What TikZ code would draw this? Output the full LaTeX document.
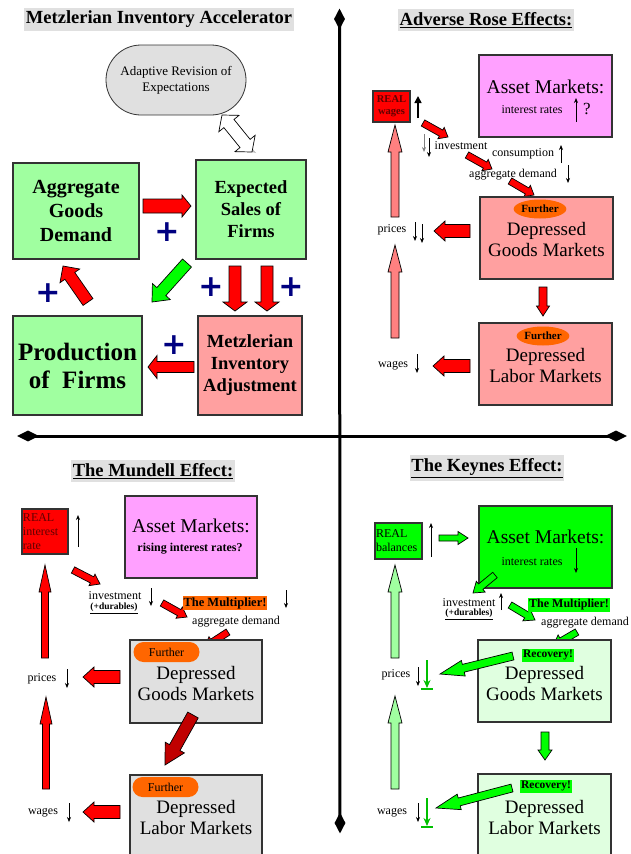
\documentclass[tikz,border=0pt]{standalone}
\usepackage{fontspec}
\setmainfont{Liberation Serif}
\newfontfamily\plusfont{DejaVu Sans}
\usetikzlibrary{calc,arrows.meta,shapes.geometric,shapes.misc}
\definecolor{lgray}{HTML}{E0E0E0}
\definecolor{lgreen}{HTML}{A0FFA0}
\definecolor{pinkc}{HTML}{FFA0A0}
\definecolor{magc}{HTML}{FFA0FF}
\definecolor{redc}{HTML}{FF0000}
\definecolor{orangec}{HTML}{FF6600}
\definecolor{salmonc}{HTML}{FF8080}
\definecolor{dkredc}{HTML}{C00000}
\definecolor{brgreen}{HTML}{00FF00}
\definecolor{palegreen}{HTML}{E0FFE0}
\definecolor{navyc}{HTML}{000080}
\definecolor{midgreen}{HTML}{00C000}
\definecolor{txtred}{HTML}{600000}
\newcommand\blk[6]{%
  \path ($#3!#6!#2$) coordinate (blkH);
  \draw[#1] ($#2!#4!90:#3$) -- ($(blkH)!#4!90:#3$) -- ($(blkH)!#5!90:#3$) -- #3 -- ($(blkH)!#5!-90:#3$) -- ($(blkH)!#4!-90:#3$) -- ($#2!#4!-90:#3$) -- cycle;}
\newcommand\dblk[6]{%
  \path ($#2!#6!#3$) coordinate (blkA) ($#3!#6!#2$) coordinate (blkB);
  \draw[#1] #2 -- ($(blkA)!#5!90:#3$) -- ($(blkA)!#4!90:#3$) -- ($(blkB)!#4!90:#3$) -- ($(blkB)!#5!90:#3$) -- #3 -- ($(blkB)!#5!-90:#3$) -- ($(blkB)!#4!-90:#3$) -- ($(blkA)!#4!-90:#3$) -- ($(blkA)!#5!-90:#3$) -- cycle;}
\begin{document}
\begin{tikzpicture}[x=1pt,y=-1pt,
  box/.style={draw=black!80, line width=1.1pt, inner sep=0pt},
  ttl/.style={fill=lgray, inner xsep=1.5pt, inner ysep=3pt, font=\fontsize{18.5}{20}\selectfont\bfseries},
  sm/.style={inner sep=0pt, font=\fontsize{12}{14}\selectfont},
  bigtxt/.style={inner sep=0pt, align=center, font=\fontsize{19}{21}\selectfont},
  assettxt/.style={inner sep=0pt, font=\fontsize{19.5}{22}\selectfont},
  plussign/.style={inner sep=0pt, text=navyc, font=\plusfont\bfseries\fontsize{30}{30}\selectfont},
  redA/.style={fill=redc, draw=black, line width=0.7pt},
  dredA/.style={fill=dkredc, draw=black, line width=0.7pt},
  salA/.style={fill=salmonc, draw=black, line width=0.7pt},
  grA/.style={fill=brgreen, draw=black, line width=0.7pt},
  lgA/.style={fill=lgreen, draw=black, line width=0.7pt},
  sarr/.style={line width=0.7pt, -{Stealth[length=5pt,width=4pt]}},
  garr/.style={line width=1.4pt, draw=midgreen, -{Stealth[length=8pt,width=7pt]}},
  axis/.style={line width=3pt},
  dmd/.style={diamond, fill=black, inner sep=0pt},
  furtherb/.style={ellipse, fill=orangec, inner sep=0pt, minimum width=46pt, minimum height=19pt, font=\fontsize{11}{12}\selectfont\bfseries},
  furtherr/.style={rounded rectangle, fill=orangec, inner sep=0pt, minimum width=66pt, minimum height=20pt, font=\fontsize{12}{13}\selectfont},
]
\useasboundingbox (0,0) rectangle (630,854);
\fill[white] (0,0) rectangle (630,854);

% ---------- axes ----------
\node[dmd, minimum width=11pt, minimum height=21pt] (dtop) at (339.5,19) {};
\node[dmd, minimum width=11pt, minimum height=21pt] (dbot) at (340,823) {};
\node[dmd, minimum width=22pt, minimum height=11pt] (dleft) at (28,436) {};
\node[dmd, minimum width=22pt, minimum height=11pt] (dright) at (616,436) {};
\draw[axis] (dtop.center) -- (dbot.center);
\draw[axis] (dleft.center) -- (dright.center);

% ---------- Q1 ----------
\node[ttl] (t1) at (159,19.5) {Metzlerian Inventory Accelerator};
\node[draw=black!80, line width=0.8pt, fill=lgray, rounded corners=35pt, minimum width=140pt, minimum height=70pt, align=center, font=\fontsize{13}{16}\selectfont] (adapt) at (176,80) {Adaptive Revision of\\Expectations};
\node[box, fill=lgreen, minimum width=126pt, minimum height=96pt, align=center, font=\fontsize{20}{24}\selectfont\bfseries] (agd) at (76,211) {Aggregate\\Goods\\Demand};
\node[box, fill=lgreen, minimum width=110pt, minimum height=99pt, align=center, font=\fontsize{18.5}{22}\selectfont\bfseries] (exps) at (251,209.5) {Expected\\Sales of\\Firms};
\node[box, fill=lgreen, minimum width=129pt, minimum height=99pt, align=center, font=\fontsize{25}{28}\selectfont\bfseries] (prod) at (77.5,365.5) {Production\\of~ Firms};
\node[box, fill=pinkc, minimum width=104pt, minimum height=99pt, align=center, font=\fontsize{18.5}{22}\selectfont\bfseries] (metz) at (250,365.5) {Metzlerian\\Inventory\\Adjustment};

\coordinate (h1a) at (222,115); \coordinate (h1b) at (252,152);
\fill[gray!55] ($(h1a)+(4,1)$) -- ($(h1b)+(4,1)$) -- (h1b) -- (h1a) -- cycle;
\dblk{fill=white, draw=black, line width=0.7pt}{(h1a)}{(h1b)}{6.5pt}{13pt}{11pt}

\coordinate (a1s) at (143,206); \coordinate (a1e) at (191,206);
\blk{redA}{(a1s)}{(a1e)}{7pt}{11pt}{9pt}
\coordinate (a2s) at (187,263); \coordinate (a2e) at (152,302);
\blk{grA}{(a2s)}{(a2e)}{6pt}{12pt}{14pt}
\coordinate (a3s) at (88,302); \coordinate (a3e) at (63,266);
\blk{redA}{(a3s)}{(a3e)}{6pt}{12pt}{12pt}
\coordinate (a4s) at (235,266); \coordinate (a4e) at (235,311);
\blk{redA}{(a4s)}{(a4e)}{6pt}{12pt}{9pt}
\coordinate (a5s) at (267,266); \coordinate (a5e) at (267,311);
\blk{redA}{(a5s)}{(a5e)}{6pt}{12pt}{9pt}
\coordinate (a6s) at (194,367); \coordinate (a6e) at (148,367);
\blk{redA}{(a6s)}{(a6e)}{5.5pt}{11.5pt}{9pt}

\node[plussign] (p1) at (167,232) {+};
\node[plussign] (p2) at (48,293) {+};
\node[plussign] (p3) at (211,287) {+};
\node[plussign] (p4) at (291,287) {+};
\node[plussign] (p5) at (174,345) {+};

% ---------- Q2 ----------
\node[ttl] (t2) at (486,20) {\underline{Adverse Rose Effects:}};
\node[box, fill=magc, minimum width=133pt, minimum height=82pt] (as2) at (545.5,96) {};
\node[assettxt] (as2t) at (545.5,87) {Asset Markets:};
\node[sm] (ir2) at (532,110) {interest rates};
\coordinate (ir2a) at (576,122); \coordinate (ir2b) at (576,98);
\draw[sarr] (ir2a) -- (ir2b);
\node[inner sep=0pt, font=\fontsize{17}{18}\selectfont] (q2) at (587,109) {?};

\node[box, fill=redc, minimum width=37pt, minimum height=31pt, align=center, text=txtred, font=\fontsize{10.5}{12}\selectfont\bfseries] (rw) at (391.5,106.5) {REAL\\wages};
\coordinate (rwa) at (418,118); \coordinate (rwb) at (418,96);
\draw[line width=1.6pt, -{Triangle[length=7pt,width=7pt]}] (rwa) -- (rwb);

\coordinate (b1s) at (423,123); \coordinate (b1e) at (448,137);
\blk{redA}{(b1s)}{(b1e)}{3.5pt}{6.5pt}{8pt}
\coordinate (b2s) at (467,155); \coordinate (b2e) at (492,169);
\blk{redA}{(b2s)}{(b2e)}{3.5pt}{6.5pt}{8pt}
\coordinate (b3s) at (510,181); \coordinate (b3e) at (534,195);
\blk{redA}{(b3s)}{(b3e)}{3.5pt}{6.5pt}{8pt}

\coordinate (iv2a) at (424,134); \coordinate (iv2b) at (424,152);
\coordinate (iv2c) at (429,138); \coordinate (iv2d) at (429,157);
\draw[sarr, gray] (iv2a) -- (iv2b);
\draw[sarr] (iv2c) -- (iv2d);
\node[sm] (inv2) at (461,146) {investment};
\node[sm] (con2) at (523,154) {consumption};
\coordinate (c2a) at (561,163); \coordinate (c2b) at (561,145);
\draw[sarr] (c2a) -- (c2b);
\node[sm] (ad2) at (513,175) {aggregate demand};
\coordinate (d2a) at (568,165); \coordinate (d2b) at (568,183);
\draw[sarr] (d2a) -- (d2b);

\node[box, fill=pinkc, minimum width=133pt, minimum height=82pt] (gm2) at (546.5,238) {};
\node[furtherb] (f2a) at (540,209) {Further};
\node[bigtxt] (gm2t) at (546.5,239.5) {Depressed\\Goods Markets};
\coordinate (b4s) at (470,231); \coordinate (b4e) at (434,231);
\blk{redA}{(b4s)}{(b4e)}{6.5pt}{10pt}{11pt}
\node[sm] (pr2) at (392,230) {prices};
\coordinate (pr2a) at (415,222); \coordinate (pr2b) at (415,241);
\coordinate (pr2c) at (422,224); \coordinate (pr2d) at (422,243);
\draw[sarr] (pr2a) -- (pr2b);
\draw[sarr] (pr2c) -- (pr2d);

\coordinate (s1s) at (395,217); \coordinate (s1e) at (395,125);
\blk{salA}{(s1s)}{(s1e)}{4pt}{7pt}{27pt}
\coordinate (s2s) at (395,338); \coordinate (s2e) at (395,245);
\blk{salA}{(s2s)}{(s2e)}{4pt}{7pt}{27pt}

\coordinate (b5s) at (543,287); \coordinate (b5e) at (543,316);
\blk{redA}{(b5s)}{(b5e)}{4pt}{6.5pt}{10pt}

\node[box, fill=pinkc, minimum width=133pt, minimum height=82pt] (lm2) at (545.5,364) {};
\node[furtherb] (f2b) at (543,336) {Further};
\node[bigtxt] (lm2t) at (545.5,365) {Depressed\\Labor Markets};
\coordinate (b6s) at (470,366); \coordinate (b6e) at (433,366);
\blk{redA}{(b6s)}{(b6e)}{6.5pt}{10pt}{11pt}
\node[sm] (wg2) at (393,366) {wages};
\coordinate (wg2a) at (417,354); \coordinate (wg2b) at (417,373);
\draw[sarr] (wg2a) -- (wg2b);

% ---------- Q3 ----------
\node[ttl] (t3) at (153,471) {\underline{The Mundell Effect:}};
\node[box, fill=redc, minimum width=46pt, minimum height=45pt, inner sep=1pt, text width=44pt, align=left, text=txtred, font=\fontsize{12}{14}\selectfont] (rir) at (45,531.5) {REAL\\interest\\rate};
\coordinate (rira) at (78,547); \coordinate (rirb) at (78,515);
\draw[sarr] (rira) -- (rirb);
\node[box, fill=magc, minimum width=132pt, minimum height=82pt] (as3) at (191,537) {};
\node[assettxt] (as3t) at (191,526) {Asset Markets:};
\node[sm, font=\fontsize{12}{14}\selectfont\bfseries] (ri3) at (190,549) {rising interest rates?};

\coordinate (c1s) at (73,570); \coordinate (c1e) at (100,584);
\blk{redA}{(c1s)}{(c1e)}{3.5pt}{6.5pt}{9pt}
\node[sm] (inv3) at (115,596) {investment};
\node[inner sep=0pt, font=\fontsize{9.5}{11}\selectfont\bfseries] (dur3) at (114,608) {\underline{(+durables)}};
\coordinate (iv3a) at (151,588); \coordinate (iv3b) at (151,606);
\draw[sarr] (iv3a) -- (iv3b);
\coordinate (c2s) at (162,603); \coordinate (c2e) at (187,617);
\blk{redA}{(c2s)}{(c2e)}{3.5pt}{6.5pt}{9pt}
\node[fill=orangec, inner xsep=1pt, inner ysep=1.5pt, font=\fontsize{12.5}{13}\selectfont\bfseries] (mul3) at (225,603) {The Multiplier!};
\coordinate (m3a) at (286,590); \coordinate (m3b) at (286,608);
\draw[sarr] (m3a) -- (m3b);
\node[sm] (ad3) at (236,622) {aggregate demand};
\coordinate (c3s) at (228,632); \coordinate (c3e) at (205,647);
\blk{redA}{(c3s)}{(c3e)}{3.5pt}{6.5pt}{9pt}

\node[box, fill=lgray, minimum width=132pt, minimum height=83pt] (gm3) at (196,681.5) {};
\node[furtherr] (f3a) at (166.5,652) {Further};
\node[bigtxt] (gm3t) at (196,683.5) {Depressed\\Goods Markets};
\coordinate (c4s) at (120,677); \coordinate (c4e) at (83,677);
\blk{redA}{(c4s)}{(c4e)}{6.5pt}{10pt}{11pt}
\node[sm] (pr3) at (42,679) {prices};
\coordinate (pr3a) at (67,669); \coordinate (pr3b) at (67,688);
\draw[sarr] (pr3a) -- (pr3b);

\coordinate (r1s) at (45,658); \coordinate (r1e) at (45,565);
\blk{redA}{(r1s)}{(r1e)}{3.5pt}{6pt}{27pt}
\coordinate (r2s) at (46,789); \coordinate (r2e) at (46,697);
\blk{redA}{(r2s)}{(r2e)}{3.5pt}{6pt}{27pt}

\coordinate (c5s) at (193,715); \coordinate (c5e) at (165,765);
\blk{dredA}{(c5s)}{(c5e)}{6pt}{11pt}{20pt}

\node[box, fill=lgray, minimum width=132pt, minimum height=88pt] (lm3) at (196,819) {};
\node[furtherr] (f3b) at (165.5,787) {Further};
\node[bigtxt] (lm3t) at (196,817.5) {Depressed\\Labor Markets};
\coordinate (c6s) at (120,812); \coordinate (c6e) at (83,812);
\blk{redA}{(c6s)}{(c6e)}{6.5pt}{10pt}{11pt}
\node[sm] (wg3) at (43,813) {wages};
\coordinate (wg3a) at (69,803); \coordinate (wg3b) at (69,822);
\draw[sarr] (wg3a) -- (wg3b);

% ---------- Q4 ----------
\node[ttl] (t4) at (487,468) {\underline{The Keynes Effect:}};
\node[box, fill=brgreen, minimum width=47pt, minimum height=36pt, inner sep=1pt, text width=45pt, align=left, font=\fontsize{12}{14}\selectfont] (rb) at (398.5,541) {REAL\\balances};
\coordinate (rba) at (431,557); \coordinate (rbb) at (431,523);
\draw[sarr] (rba) -- (rbb);
\coordinate (g1s) at (439,538); \coordinate (g1e) at (468,538);
\blk{grA}{(g1s)}{(g1e)}{3pt}{6.5pt}{10pt}

\node[box, fill=brgreen, minimum width=133pt, minimum height=82pt] (as4) at (545.5,547) {};
\node[assettxt] (as4t) at (545.5,537) {Asset Markets:};
\node[sm] (ir4) at (532,562) {interest rates};
\coordinate (ir4a) at (576,548); \coordinate (ir4b) at (576,573);
\draw[sarr] (ir4a) -- (ir4b);

\coordinate (g2s) at (495,575); \coordinate (g2e) at (473,593);
\blk{grA}{(g2s)}{(g2e)}{3.5pt}{7pt}{10pt}
\node[sm] (inv4) at (469,603) {investment};
\node[inner sep=0pt, font=\fontsize{9.5}{11}\selectfont\bfseries] (dur4) at (469,614) {\underline{(+durables)}};
\coordinate (iv4a) at (501,610); \coordinate (iv4b) at (501,593);
\draw[sarr] (iv4a) -- (iv4b);
\coordinate (g3s) at (510,605); \coordinate (g3e) at (535,620);
\blk{grA}{(g3s)}{(g3e)}{3.5pt}{7pt}{10pt}
\node[fill=brgreen, inner xsep=1pt, inner ysep=1.5pt, font=\fontsize{12}{13}\selectfont\bfseries] (mul4) at (569,605) {The Multiplier!};
\node[sm] (ad4) at (585,623) {aggregate demand};
\coordinate (g4s) at (577,632); \coordinate (g4e) at (553,646);
\blk{grA}{(g4s)}{(g4e)}{3.5pt}{7pt}{10pt}

\node[box, fill=palegreen, minimum width=133pt, minimum height=82pt] (gm4) at (544.5,681) {};
\node[fill=brgreen, inner xsep=1pt, inner ysep=1.5pt, font=\fontsize{11.5}{12}\selectfont\bfseries] (rc4a) at (548,655) {Recovery!};
\node[bigtxt] (gm4t) at (544.5,683.5) {Depressed\\Goods Markets};
\coordinate (g5s) at (513,656) ; \coordinate (g5e) at (440,674);
\blk{grA}{(g5s)}{(g5e)}{4pt}{8pt}{24pt}
\node[sm] (pr4) at (396,675) {prices};
\coordinate (pr4a) at (418,667); \coordinate (pr4b) at (418,686);
\draw[sarr] (pr4a) -- (pr4b);
\coordinate (pg4a) at (427,660); \coordinate (pg4b) at (427,688);
\draw[garr] (pg4a) -- (pg4b);
\draw[line width=1.4pt, midgreen] ($(pg4b)+(-6,1)$) -- ($(pg4b)+(6,1)$);

\coordinate (l1s) at (395,658); \coordinate (l1e) at (395,565);
\blk{lgA}{(l1s)}{(l1e)}{4pt}{7pt}{27pt}
\coordinate (l2s) at (395,789); \coordinate (l2e) at (395,696);
\blk{lgA}{(l2s)}{(l2e)}{4pt}{7pt}{27pt}

\coordinate (g6s) at (545,732); \coordinate (g6e) at (545,760);
\blk{grA}{(g6s)}{(g6e)}{4pt}{7pt}{10pt}

\node[box, fill=palegreen, minimum width=133pt, minimum height=88pt] (lm4) at (544.5,818) {};
\node[fill=brgreen, inner xsep=1pt, inner ysep=1.5pt, font=\fontsize{11.5}{12}\selectfont\bfseries] (rc4b) at (546,786) {Recovery!};
\node[bigtxt] (lm4t) at (544.5,817.5) {Depressed\\Labor Markets};
\coordinate (g7s) at (512,788); \coordinate (g7e) at (436,808);
\blk{grA}{(g7s)}{(g7e)}{4pt}{8pt}{24pt}
\node[sm] (wg4) at (392,813) {wages};
\coordinate (wg4a) at (418,803); \coordinate (wg4b) at (418,822);
\draw[sarr] (wg4a) -- (wg4b);
\coordinate (wgg4a) at (427,798); \coordinate (wgg4b) at (427,826);
\draw[garr] (wgg4a) -- (wgg4b);
\draw[line width=1.4pt, midgreen] ($(wgg4b)+(-6,1)$) -- ($(wgg4b)+(6,1)$);
\end{tikzpicture}
\end{document}
